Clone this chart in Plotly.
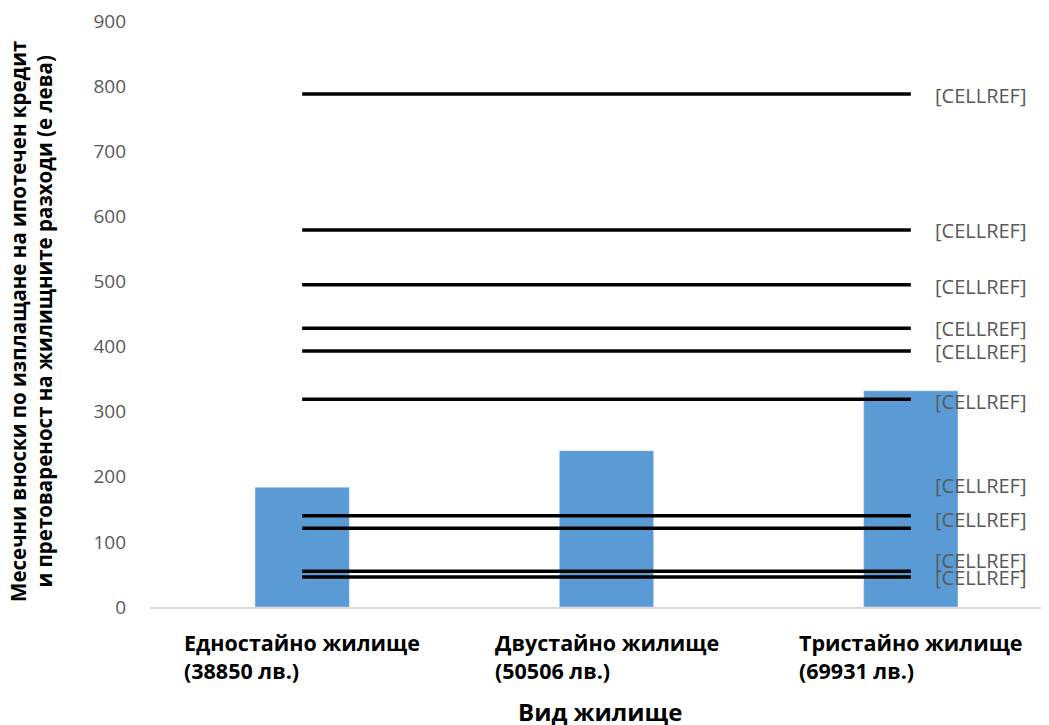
import plotly.graph_objects as go

categories = ["Едностайно жилище", "Двустайно жилище", "Тристайно жилище"]
prices = ["(38850 лв.)", "(50506 лв.)", "(69931 лв.)"]
bar_values = [184, 240, 332]
line_levels = [788, 579, 495, 428, 393, 319, 140, 121, 55, 46]
label_levels = [785, 578, 493, 427, 392, 316, 186, 135, 71, 45]
label_text = "[CELLREF]"
y_ticks = [0, 100, 200, 300, 400, 500, 600, 700, 800, 900]

FONT = "Open Sans"
GRAY = "#595959"

fig = go.Figure()
fig.add_trace(go.Bar(x=categories, y=bar_values, marker_color="#5B9BD5",
                     width=0.31, showlegend=False))
for lv in line_levels:
    fig.add_trace(go.Scatter(x=categories, y=[lv] * len(categories), mode="lines",
                             line=dict(color="black", width=3.5), showlegend=False))

annotations = []
for ly in label_levels:
    annotations.append(dict(x=categories[-1], y=ly, xref="x", yref="y", text=label_text,
                            showarrow=False, xanchor="left", xshift=22,
                            font=dict(family=FONT, size=20, color=GRAY)))
for c, p in zip(categories, prices):
    annotations.append(dict(x=c, y=-0.032, xref="x", yref="paper",
                            text="<b>" + c + "<br>" + p + "</b>", align="left",
                            showarrow=False, yanchor="top",
                            font=dict(family=FONT, size=21.5, color="black")))
annotations.append(dict(x=0.5, y=-0.179, xref="paper", yref="paper", text="<b>Вид жилище</b>",
                        showarrow=False, yanchor="middle",
                        font=dict(family=FONT, size=24, color="black")))
annotations.append(dict(x=-0.132, y=0.487, xref="paper", yref="paper",
                        text="<b>Месечни вноски по изплащане на ипотечен кредит<br>и претовареност на жилищните разходи (е лева)</b>",
                        showarrow=False, textangle=-90, xanchor="center", yanchor="middle",
                        font=dict(family=FONT, size=20.5, color="black")))

fig.update_layout(
    width=1041, height=717,
    margin=dict(l=142, r=0, t=13, b=118),
    plot_bgcolor="white", paper_bgcolor="white",
    annotations=annotations,
    xaxis=dict(type="category", range=[-0.5, 2.454], showticklabels=False,
               showline=True, linecolor="#D9D9D9", linewidth=1.5, ticks="",
               showgrid=False, zeroline=False),
    yaxis=dict(range=[0, 900], tickvals=y_ticks, showgrid=False, zeroline=False,
               showline=False, tickfont=dict(family=FONT, size=19, color=GRAY),
               ticklabelstandoff=23, ticklabeloverflow="allow"),
)

fig.write_html("out.html")
